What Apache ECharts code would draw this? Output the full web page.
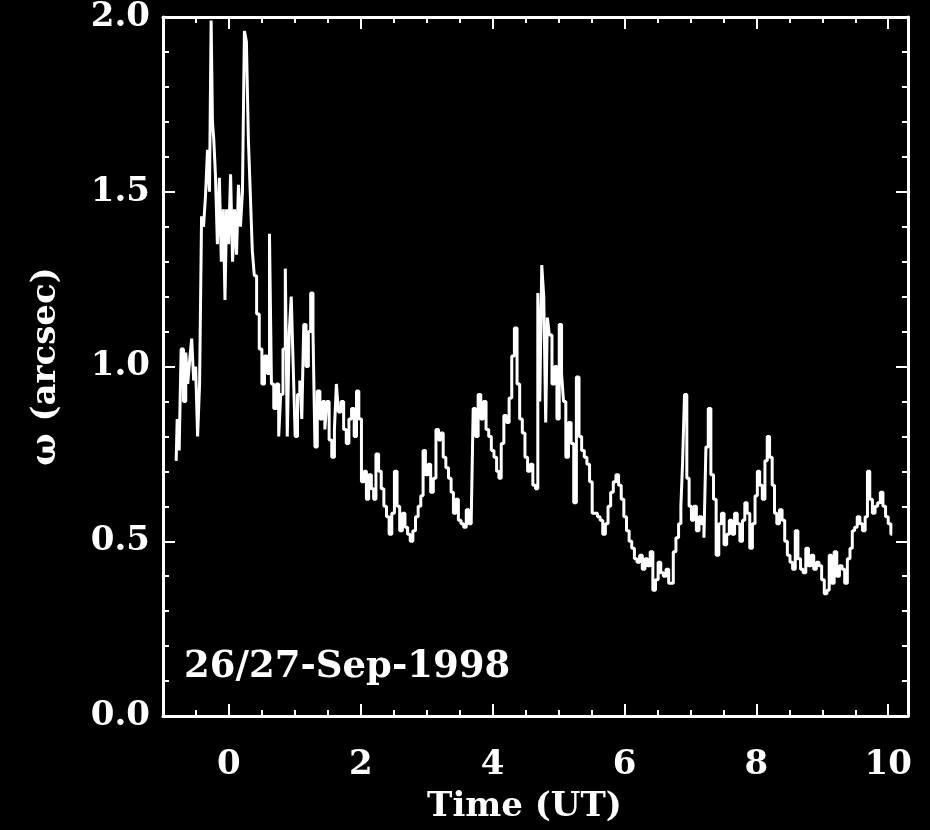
<!DOCTYPE html>
<html>
<head>
<meta charset="utf-8">
<script src="https://cdn.jsdelivr.net/npm/echarts@6/dist/echarts.min.js"></script>
<style>
html,body{margin:0;padding:0;background:#000;}
#chart{width:930px;height:830px;}
</style>
</head>
<body>
<div id="chart"></div>
<script>
const times = [
-0.80,-0.77,-0.74,-0.71,-0.67,-0.64,-0.61,-0.58,-0.55,-0.52,-0.49,-0.46,-0.43,-0.40,-0.37,-0.34,-0.31,-0.28,-0.26,-0.24,
-0.22,-0.19,-0.16,-0.13,-0.10,-0.07,-0.05,-0.02,0.01,0.04,0.07,0.10,0.13,0.16,0.19,0.22,0.25,0.28,0.31,0.34,
0.37,0.40,0.44,0.48,0.52,0.56,0.60,0.63,0.66,0.70,0.74,0.77,0.80,0.84,0.87,0.90,0.93,0.96,0.99,1.02,
1.06,1.09,1.12,1.15,1.19,1.22,1.26,1.29,1.32,1.36,1.40,1.44,1.47,1.50,1.54,1.58,1.62,1.64,1.68,1.72,
1.76,1.80,1.84,1.88,1.92,1.95,1.99,2.03,2.07,2.10,2.14,2.18,2.21,2.25,2.29,2.33,2.37,2.41,2.45,2.49,
2.53,2.57,2.61,2.65,2.69,2.73,2.77,2.81,2.85,2.89,2.93,2.96,3.00,3.04,3.08,3.12,3.16,3.20,3.23,3.27,
3.31,3.35,3.39,3.42,3.46,3.50,3.54,3.58,3.62,3.66,3.69,3.72,3.76,3.80,3.84,3.88,3.92,3.96,4.00,4.04,
4.08,4.11,4.15,4.19,4.23,4.27,4.31,4.35,4.39,4.43,4.47,4.51,4.55,4.59,4.63,4.67,4.70,4.73,4.76,4.79,
4.82,4.84,4.88,4.92,4.96,4.99,5.03,5.06,5.09,5.13,5.17,5.21,5.25,5.29,5.33,5.37,5.41,5.45,5.49,5.53,
5.57,5.61,5.65,5.69,5.73,5.77,5.81,5.85,5.89,5.93,5.97,6.01,6.05,6.09,6.13,6.17,6.21,6.25,6.29,6.33,
6.37,6.41,6.45,6.49,6.53,6.57,6.61,6.65,6.69,6.72,6.76,6.80,6.84,6.87,6.89,6.93,6.96,7.00,7.03,7.07,
7.11,7.15,7.19,7.22,7.25,7.29,7.33,7.37,7.41,7.45,7.49,7.53,7.57,7.61,7.65,7.69,7.73,7.77,7.81,7.84,
7.88,7.92,7.96,8.00,8.03,8.07,8.11,8.15,8.18,8.22,8.26,8.29,8.33,8.37,8.41,8.45,8.49,8.53,8.57,8.61,
8.65,8.69,8.73,8.77,8.81,8.85,8.89,8.93,8.97,9.01,9.05,9.09,9.12,9.16,9.20,9.24,9.28,9.32,9.36,9.40,
9.44,9.47,9.51,9.55,9.59,9.63,9.67,9.70,9.74,9.78,9.82,9.86,9.90,9.94,9.98,10.02,10.06
];
const omega = [
0.73,0.85,0.76,1.05,0.90,1.04,0.95,1.02,1.08,0.96,1.00,0.80,0.95,1.43,1.40,1.49,1.62,1.50,1.99,1.70,
1.65,1.55,1.35,1.54,1.30,1.45,1.19,1.45,1.35,1.55,1.30,1.45,1.32,1.52,1.40,1.50,1.96,1.93,1.65,1.49,
1.33,1.26,1.15,1.05,0.95,1.03,0.98,1.38,0.95,0.88,0.95,0.80,0.92,1.05,1.28,0.80,1.10,1.20,1.00,0.80,
0.92,0.96,0.85,1.12,1.00,1.10,1.21,1.10,0.77,0.93,0.85,0.90,0.82,0.90,0.79,0.74,0.82,0.95,0.87,0.90,
0.82,0.78,0.85,0.88,0.80,0.93,0.85,0.67,0.70,0.62,0.69,0.65,0.62,0.75,0.70,0.65,0.60,0.57,0.52,0.58,
0.70,0.60,0.53,0.58,0.54,0.52,0.50,0.53,0.57,0.60,0.63,0.76,0.69,0.72,0.64,0.68,0.82,0.79,0.81,0.74,
0.71,0.68,0.64,0.58,0.62,0.56,0.55,0.54,0.59,0.55,0.56,0.88,0.80,0.92,0.85,0.90,0.82,0.80,0.76,0.74,
0.70,0.68,0.78,0.86,0.84,0.91,1.03,1.11,0.95,0.85,0.81,0.74,0.70,0.72,0.66,0.65,1.21,0.90,1.29,1.20,
0.84,1.14,1.09,0.95,1.00,0.85,1.12,0.98,0.90,0.74,0.84,0.78,0.61,0.97,0.80,0.76,0.74,0.72,0.67,0.58,
0.58,0.57,0.56,0.52,0.55,0.60,0.64,0.67,0.69,0.66,0.62,0.57,0.53,0.50,0.48,0.45,0.44,0.46,0.42,0.45,
0.43,0.47,0.36,0.39,0.44,0.41,0.40,0.42,0.38,0.38,0.47,0.51,0.55,0.60,0.72,0.92,0.68,0.60,0.56,0.60,
0.53,0.57,0.55,0.51,0.77,0.88,0.69,0.62,0.46,0.55,0.58,0.49,0.52,0.56,0.52,0.58,0.55,0.50,0.56,0.61,
0.58,0.48,0.55,0.63,0.70,0.66,0.62,0.73,0.80,0.74,0.66,0.58,0.55,0.59,0.56,0.50,0.46,0.44,0.42,0.53,
0.45,0.42,0.41,0.48,0.43,0.46,0.42,0.44,0.43,0.39,0.35,0.36,0.46,0.38,0.47,0.40,0.43,0.42,0.38,0.45,
0.48,0.53,0.54,0.57,0.55,0.53,0.57,0.70,0.62,0.58,0.60,0.61,0.64,0.60,0.57,0.55,0.52
];
const xMajorTicks = [0, 2, 4, 6, 8, 10];
const yTickLabels = ['0.0', '0.5', '1.0', '1.5', '2.0'];
const dateLabel = '26/27-Sep-1998';
const xTitle = 'Time (UT)';
const yTitle = 'ω (arcsec)';

const FONT = 'DejaVu Serif';
const WHITE = '#ffffff';
const chart = echarts.init(document.getElementById('chart'), null, {renderer: 'canvas'});
const seriesData = times.map((t, i) => [t, omega[i]]);

function xAxisDef(pos, major, showLabel) {
  const a = {
    type: 'value', position: pos, min: -1, max: 10.3,
    axisLine: {show: major, onZero: false, lineStyle: {color: WHITE, width: 3}},
    axisTick: {show: true, inside: true, length: major ? 12 : 6, lineStyle: {color: WHITE, width: 2}},
    axisLabel: {show: false},
    splitLine: {show: false}
  };
  if (major) {
    a.axisTick.customValues = xMajorTicks;
    if (showLabel) {
      a.axisLabel = {show: true, customValues: xMajorTicks, color: WHITE, fontSize: 34, fontWeight: 'bold', fontFamily: FONT, margin: 32};
      a.name = xTitle;
      a.nameLocation = 'middle';
      a.nameGap = 74;
      a.nameTextStyle = {color: WHITE, fontSize: 34, fontWeight: 'bold', fontFamily: FONT, padding: [0, 22, 0, 0]};
    }
  } else {
    a.interval = 0.5;
  }
  return a;
}
function yAxisDef(pos, showLabel) {
  const a = {
    type: 'value', position: pos, min: 0, max: 2, interval: 0.5,
    axisLine: {show: true, onZero: false, lineStyle: {color: WHITE, width: 3}},
    axisTick: {show: true, inside: true, length: 12, lineStyle: {color: WHITE, width: 2}},
    minorTick: {show: true, splitNumber: 5, length: 6, lineStyle: {color: WHITE, width: 2}},
    axisLabel: {show: false},
    splitLine: {show: false}
  };
  if (showLabel) {
    a.axisLabel = {show: true, color: WHITE, fontSize: 34, fontWeight: 'bold', fontFamily: FONT, margin: 13,
      formatter: v => yTickLabels[Math.round(v / 0.5)]};
    a.name = yTitle;
    a.nameLocation = 'middle';
    a.nameGap = 100;
    a.nameTextStyle = {color: WHITE, fontSize: 34, fontWeight: 'bold', fontFamily: FONT};
  }
  return a;
}

chart.setOption({
  backgroundColor: '#000000',
  animation: false,
  grid: {left: 163, right: 22, top: 14, bottom: 114, containLabel: false},
  xAxis: [
    xAxisDef('bottom', true, true),
    xAxisDef('bottom', false, false),
    xAxisDef('top', true, false),
    xAxisDef('top', false, false)
  ],
  yAxis: [
    yAxisDef('left', true),
    yAxisDef('right', false)
  ],
  graphic: [{
    type: 'text', left: 184, top: 649,
    style: {text: dateLabel, fill: WHITE, font: 'bold 37px "DejaVu Serif"'}
  }],
  series: [{
    type: 'line', xAxisIndex: 0, yAxisIndex: 0,
    data: seriesData, step: 'middle', showSymbol: false, symbol: 'none',
    lineStyle: {color: WHITE, width: 3}
  }]
});
</script>
</body>
</html>
